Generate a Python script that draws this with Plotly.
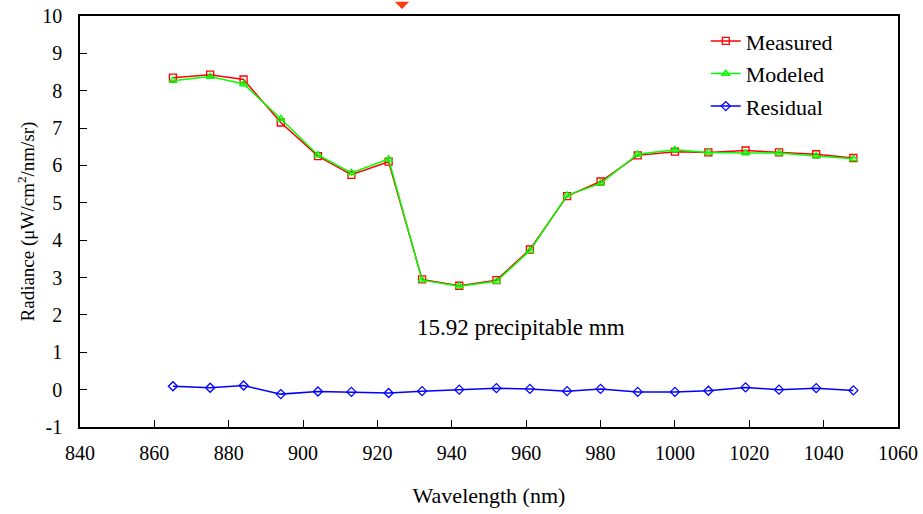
import plotly.graph_objects as go

wavelength = [865, 875, 884, 894, 904, 913, 923, 932, 942, 952,
              961, 971, 980, 990, 1000, 1009, 1019, 1028, 1038, 1048]
measured = [8.35, 8.43, 8.30, 7.15, 6.25, 5.75, 6.10, 2.95, 2.78, 2.93,
            3.75, 5.18, 5.57, 6.27, 6.37, 6.35, 6.40, 6.35, 6.30, 6.20]
modeled = [8.27, 8.38, 8.18, 7.25, 6.28, 5.80, 6.17, 2.93, 2.77, 2.90,
           3.72, 5.20, 5.52, 6.30, 6.42, 6.35, 6.33, 6.33, 6.25, 6.18]
residual = [0.09, 0.05, 0.11, -0.12, -0.05, -0.06, -0.09, -0.04, 0.00, 0.04,
            0.02, -0.04, 0.02, -0.06, -0.06, -0.03, 0.06, 0.00, 0.04, -0.02]
y_tick_values = [-1, 0, 1, 2, 3, 4, 5, 6, 7, 8, 9, 10]
y_tick_labels = ["-1", "0", "1", "2", "3", "4", "5", "6", "7", "8", "9", "10"]
arrow_wavelength = 926.6
note_text = "15.92 precipitable mm"

FONT = "'Liberation Serif', 'Times New Roman', Tinos, 'DejaVu Serif', serif"

fig = go.Figure()
fig.add_trace(go.Scatter(
    x=wavelength, y=measured, name="Measured", mode="lines+markers", legendgroup="m",
    line=dict(color="#ff0000", width=1.5),
    marker=dict(symbol="square-open", size=7, color="#ff0000", line=dict(width=1.3))))
fig.add_trace(go.Scatter(
    x=wavelength, y=modeled, name="Modeled", mode="lines+markers", legendgroup="o",
    line=dict(color="#00ff00", width=1.5),
    marker=dict(symbol="triangle-up-open", size=7, color="#00ff00", line=dict(width=1.3))))
fig.add_trace(go.Scatter(
    x=wavelength, y=residual, name="Residual", mode="lines+markers", legendgroup="r",
    line=dict(color="#0000ff", width=1.5),
    marker=dict(symbol="diamond-open", size=7, color="#0000ff", line=dict(width=1.3))))

fig.add_annotation(x=958.6, y=1.66, text=note_text, showarrow=False,
                   font=dict(family=FONT, size=23, color="black"))
# small downward pointer above the plot frame
fig.add_annotation(x=arrow_wavelength, y=1, yref="paper", text="", yshift=7,
                   showarrow=True, ax=0, ay=-8, arrowhead=1, arrowsize=1.2,
                   arrowwidth=2, arrowcolor="#ff3c10")

fig.update_layout(
    width=923, height=514,
    margin=dict(l=80, r=25, t=16, b=87, autoexpand=False),
    paper_bgcolor="white", plot_bgcolor="white",
    font=dict(family=FONT, size=20, color="black"),
    legend=dict(x=0.765, y=0.99, xanchor="left", yanchor="top",
                bgcolor="rgba(0,0,0,0)", font=dict(family=FONT, size=22),
                itemwidth=30, tracegroupgap=1),
    showlegend=True,
)
fig.update_xaxes(
    range=[840, 1060], dtick=20, tick0=840, automargin=False,
    showgrid=False, zeroline=False,
    showline=True, linecolor="black", linewidth=1.5, mirror=True,
    ticks="inside", ticklen=7, tickcolor="black", ticklabelstandoff=7,
    title=dict(text="Wavelength (nm)", font=dict(family=FONT, size=22), standoff=25),
    tickfont=dict(family=FONT, size=20),
)
fig.update_yaxes(
    range=[-1, 10], tickmode="array", tickvals=y_tick_values, ticktext=y_tick_labels,
    automargin=False,
    showgrid=False, zeroline=False,
    showline=True, linecolor="black", linewidth=1.5, mirror=True,
    ticks="inside", ticklen=7, tickcolor="black", ticklabelstandoff=12,
    title=dict(text="Radiance (μW/cm<sup>2</sup>/nm/sr)", font=dict(family=FONT, size=19), standoff=3),
    tickfont=dict(family=FONT, size=20),
)

fig.write_html("out.html", config={"displayModeBar": False},
               post_script="document.body.style.margin='0';")
